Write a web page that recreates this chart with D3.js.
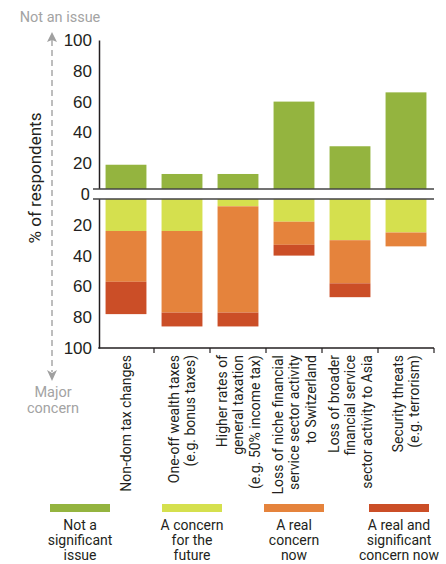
<!DOCTYPE html>
<html lang="en">
<head>
    <meta charset="UTF-8">
    <title>Concerns by issue</title>
    <script src="https://d3js.org/d3.v7.min.js"></script>
    <style>
        body { margin: 0; background: #ffffff; }
        svg { display: block; font-family: Roboto, "Open Sans", sans-serif; }
        .tick text { fill: #231f20; font-size: 17px; }
        .cat { fill: #231f20; font-size: 14px; }
        .leg { fill: #231f20; font-size: 14px; }
        .hint { fill: #a3a3a3; font-size: 14.5px; }
    </style>
</head>
<body>
    <svg width="446" height="564"></svg>
    <script>
        // categories and the share of respondents in each answer
        var categories = ["Non-dom", "One-off", "Higher", "Niche", "Broader", "Security"];
        var catLabels = [
            ["Non-dom tax changes"],
            ["One-off wealth taxes", "(e.g. bonus taxes)"],
            ["Higher rates of", "general taxation", "(e.g. 50% income tax)"],
            ["Loss of niche financial", "service sector activity", "to Switzerland"],
            ["Loss of broader", "financial service", "sector activity to Asia"],
            ["Security threats", "(e.g. terrorism)"]
        ];
        var notSignificant = [19, 13, 13, 60, 31, 66];
        var concernFuture  = [24, 24, 8, 18, 30, 25];
        var realNow        = [33, 53, 69, 15, 28, 9];
        var realSignificant = [21, 9, 9, 7, 9, 0];
        var yTicks = [20, 40, 60, 80, 100];
        var legendNames = [
            ["Not a", "significant", "issue"],
            ["A concern", "for the", "future"],
            ["A real", "concern", "now"],
            ["A real and", "significant", "concern now"]
        ];
        var colors = ["#94b43f", "#d5e04e", "#e5833c", "#cb4e27"];

        var svg = d3.select("svg");

        var x = d3.scaleBand()
            .domain(categories)
            .range([98, 434])
            .paddingInner(0.27)
            .paddingOuter(0.135);

        var yTop = d3.scaleLinear().domain([0, 100]).range([194, 40]);
        var yBot = d3.scaleLinear().domain([0, 100]).range([194, 348]);

        // upper panel: not a significant issue
        svg.append("g").selectAll("rect")
            .data(categories)
            .join("rect")
            .attr("x", d => x(d))
            .attr("width", x.bandwidth())
            .attr("y", (d, i) => yTop(notSignificant[i]))
            .attr("height", (d, i) => yTop(0) - yTop(notSignificant[i]))
            .attr("fill", colors[0]);

        // lower panel: stacked concerns going down
        var rows = categories.map((c, i) => ({
            cat: c, future: concernFuture[i], real: realNow[i], sig: realSignificant[i]
        }));
        var stack = d3.stack().keys(["future", "real", "sig"])(rows);

        svg.append("g").selectAll("g")
            .data(stack)
            .join("g")
            .attr("fill", (d, i) => colors[i + 1])
            .selectAll("rect")
            .data(d => d)
            .join("rect")
            .attr("x", d => x(d.data.cat))
            .attr("width", x.bandwidth())
            .attr("y", d => yBot(d[0]))
            .attr("height", d => yBot(d[1]) - yBot(d[0]));

        // y axes
        svg.append("g")
            .attr("transform", "translate(99,0)")
            .call(d3.axisLeft(yTop).tickValues(yTicks).tickSize(0).tickPadding(7))
            .call(g => g.select(".domain").attr("stroke", "#231f20").attr("stroke-width", 1.5));
        svg.append("g")
            .attr("transform", "translate(99,0)")
            .call(d3.axisLeft(yBot).tickValues(yTicks).tickSize(0).tickPadding(7))
            .call(g => g.select(".domain").attr("stroke", "#231f20").attr("stroke-width", 1.5));
        svg.selectAll(".tick text").attr("font-family", null).attr("font-size", null);

        // axis break
        svg.append("rect")
            .attr("x", 93).attr("width", 341)
            .attr("y", 189).attr("height", 10)
            .attr("fill", "#fff");
        svg.append("g").selectAll("line")
            .data([189, 199])
            .join("line")
            .attr("x1", 93).attr("x2", 434)
            .attr("y1", d => d).attr("y2", d => d)
            .attr("stroke", "#444").attr("stroke-width", 1.5);
        svg.append("text")
            .attr("x", 90).attr("y", 194).attr("dy", "0.35em")
            .attr("text-anchor", "end")
            .attr("fill", "#231f20").attr("font-size", 17)
            .text("0");

        // x axis with ticks between bands
        var xAxis = svg.append("g");
        xAxis.append("line")
            .attr("x1", 98.25).attr("x2", x.range()[1])
            .attr("y1", yBot(100)).attr("y2", yBot(100))
            .attr("stroke", "#231f20").attr("stroke-width", 1.5);
        xAxis.selectAll(".xt")
            .data(categories)
            .join("line")
            .attr("class", "xt")
            .attr("x1", d => x(d) + x.bandwidth() + (x.step() - x.bandwidth()) / 2)
            .attr("x2", d => x(d) + x.bandwidth() + (x.step() - x.bandwidth()) / 2)
            .attr("y1", yBot(100)).attr("y2", yBot(100) + 5)
            .attr("stroke", "#231f20").attr("stroke-width", 1.2);

        // category labels, rotated
        var lineH = 16.5;
        svg.append("g").selectAll("text")
            .data(categories)
            .join("text")
            .attr("class", "cat")
            .attr("text-anchor", "end")
            .attr("transform", d => "translate(" + (x(d) + x.bandwidth() / 2) + ",355) rotate(-90)")
            .each(function(d, i) {
                var lines = catLabels[i];
                var t = d3.select(this);
                lines.forEach(function(s, k) {
                    t.append("tspan")
                        .attr("x", 0)
                        .attr("y", (k - (lines.length - 1) / 2) * lineH + 5)
                        .text(s);
                });
            });

        // y title and direction arrow
        svg.append("text")
            .attr("transform", "translate(41,178) rotate(-90)")
            .attr("text-anchor", "middle")
            .attr("fill", "#231f20").attr("font-size", 17)
            .text("% of respondents");

        svg.append("line")
            .attr("x1", 52).attr("x2", 52)
            .attr("y1", 40).attr("y2", 372)
            .attr("stroke", "#a8a8a8").attr("stroke-width", 1.5)
            .attr("stroke-dasharray", "6,4");
        svg.append("path")
            .attr("d", "M52,32 L57,42 L52,40 L47,42 Z")
            .attr("fill", "#a0a0a0");
        svg.append("path")
            .attr("d", "M52,381 L57,370 L52,373 L47,370 Z")
            .attr("fill", "#a0a0a0");

        svg.append("text").attr("class", "hint")
            .attr("x", 60).attr("y", 22).attr("text-anchor", "middle")
            .text("Not an issue");
        svg.append("text").attr("class", "hint")
            .attr("x", 53).attr("y", 397).attr("text-anchor", "middle")
            .text("Major");
        svg.append("text").attr("class", "hint")
            .attr("x", 53).attr("y", 413).attr("text-anchor", "middle")
            .text("concern");

        // legend
        var legendCx = [80, 192, 294, 399];
        var leg = svg.append("g").selectAll("g")
            .data(legendNames)
            .join("g")
            .attr("transform", (d, i) => "translate(" + legendCx[i] + ",0)");
        leg.append("rect")
            .attr("x", -30).attr("width", 60)
            .attr("y", 504).attr("height", 8)
            .attr("fill", (d, i) => colors[i]);
        leg.append("text")
            .attr("class", "leg")
            .attr("text-anchor", "middle")
            .selectAll("tspan")
            .data(d => d)
            .join("tspan")
            .attr("x", 0)
            .attr("y", (d, k) => 530 + k * 15)
            .text(d => d);
    </script>
</body>
</html>
